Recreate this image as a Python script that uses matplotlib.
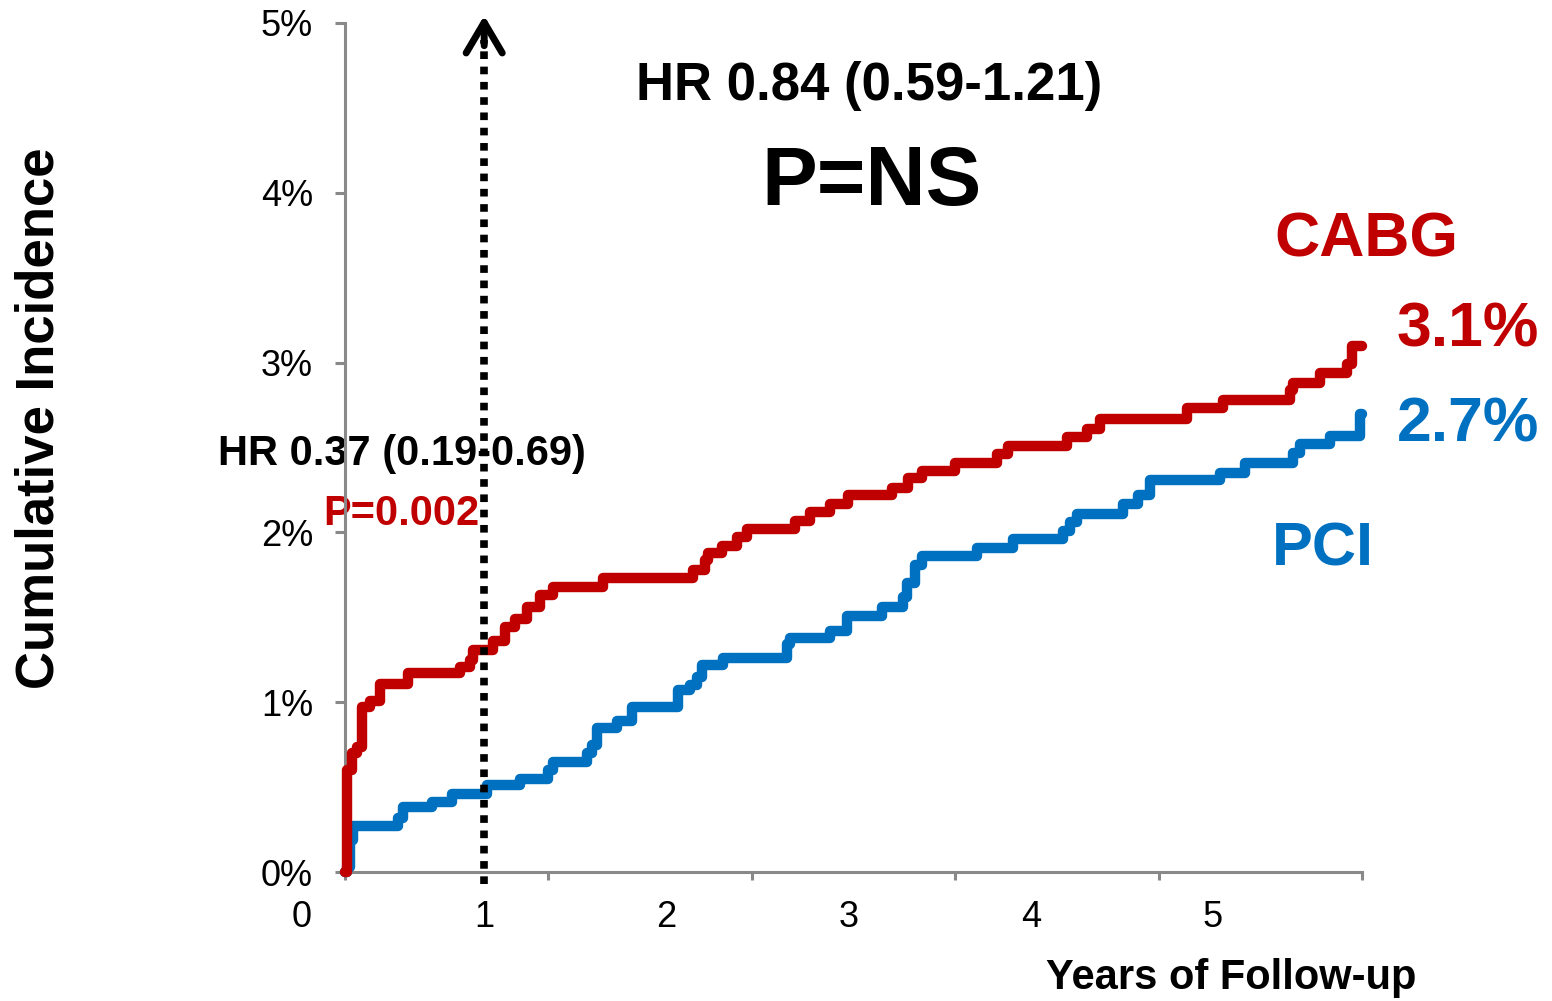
import numpy as np
import matplotlib
matplotlib.use('Agg')
import matplotlib.pyplot as plt

plt.rcParams['font.family'] = ['Liberation Sans', 'DejaVu Sans']

# Cumulative incidence curves (years of follow-up, percent)
cabg_t = [0.236, 0.247, 0.274, 0.302, 0.329, 0.373, 0.428, 0.582, 0.867, 0.922,
          0.939, 1.048, 1.114, 1.169, 1.235, 1.306, 1.378, 1.652, 2.146, 2.212,
          2.228, 2.305, 2.388, 2.443, 2.706, 2.788, 2.898, 2.997, 3.238, 3.326,
          3.403, 3.584, 3.815, 3.875, 4.199, 4.308, 4.380, 4.857, 5.055, 5.423,
          5.439, 5.587, 5.735, 5.763, 5.818]
cabg_v = [0.00, 0.60, 0.70, 0.735, 0.97, 1.01, 1.11, 1.17, 1.21, 1.25,
          1.31, 1.36, 1.44, 1.49, 1.56, 1.63, 1.68, 1.73, 1.78, 1.84,
          1.88, 1.92, 1.97, 2.02, 2.07, 2.12, 2.17, 2.22, 2.26, 2.32,
          2.36, 2.41, 2.46, 2.51, 2.56, 2.61, 2.67, 2.73, 2.78, 2.84,
          2.88, 2.94, 2.99, 3.10, 3.10]

pci_t = [0.236, 0.247, 0.263, 0.280, 0.527, 0.554, 0.713, 0.823, 1.015, 1.196,
         1.350, 1.378, 1.564, 1.592, 1.619, 1.729, 1.811, 2.064, 2.130, 2.168,
         2.195, 2.311, 2.662, 2.678, 2.898, 2.991, 3.183, 3.298, 3.320, 3.364,
         3.403, 3.705, 3.902, 4.177, 4.215, 4.254, 4.506, 4.588, 4.654, 5.038,
         5.176, 5.439, 5.478, 5.642, 5.807, 5.818]
pci_v = [0.00, 0.03, 0.19, 0.27, 0.32, 0.38, 0.41, 0.46, 0.51, 0.55,
         0.60, 0.65, 0.70, 0.75, 0.85, 0.89, 0.97, 1.07, 1.10, 1.15,
         1.22, 1.26, 1.34, 1.38, 1.42, 1.51, 1.56, 1.62, 1.70, 1.81,
         1.86, 1.91, 1.96, 2.01, 2.06, 2.11, 2.17, 2.22, 2.31, 2.35,
         2.41, 2.47, 2.52, 2.57, 2.70, 2.70]

year_labels = [0, 1, 2, 3, 4, 5]
pct_ticks = [0, 1, 2, 3, 4, 5]
landmark = 1.0

red = '#C00000'
blue = '#0070C0'
grey = '#898989'

fig = plt.figure(figsize=(15.52, 10.01), dpi=100)
ax = fig.add_axes([345 / 1552, 1 - 872 / 1001, 1017 / 1552, 849 / 1001])

x0, x1 = 0.236, 5.818
ax.set_xlim(x0, x1)
ax.set_ylim(0, 5)

ax.plot(pci_t, pci_v, drawstyle='steps-post', color=blue, lw=7.5,
        solid_joinstyle='round', solid_capstyle='round', clip_on=False, zorder=3)
ax.plot(cabg_t, cabg_v, drawstyle='steps-post', color=red, lw=7.5,
        solid_joinstyle='round', solid_capstyle='round', clip_on=False, zorder=4)

# 1-year landmark line with arrow head
ax.plot([landmark, landmark], [-0.07, 4.9], color='black', lw=5.5,
        linestyle=(0, (1, 1)), clip_on=False, zorder=5)
ax.annotate('', xy=(landmark, 5.06), xytext=(landmark, 4.85),
            arrowprops=dict(arrowstyle='->,head_length=1.1,head_width=0.65',
                            mutation_scale=20, lw=5, color='black',
                            capstyle='round', joinstyle='round'),
            annotation_clip=False, zorder=6)

# axes styling
for s in ['top', 'right']:
    ax.spines[s].set_visible(False)
for s in ['left', 'bottom']:
    ax.spines[s].set_color(grey)
    ax.spines[s].set_linewidth(2.2)

ax.set_yticks(pct_ticks)
ax.set_yticklabels([f'{p}%' for p in pct_ticks])
ax.tick_params(axis='y', direction='out', length=7, width=2.2, color=grey,
               pad=16, labelsize=26)
ax.set_xticks(np.linspace(x0, x1, 6))
ax.tick_params(axis='x', direction='out', length=6, width=2.2, color=grey,
               labelbottom=False)
for yr in year_labels:
    ax.text(yr, -0.27, str(yr), ha='center', va='center', fontsize=26)

fig.text(40 / 1552, 1 - 418 / 1001, 'Cumulative Incidence', rotation=90,
         ha='center', va='center', fontsize=38, fontweight='bold')
fig.text(1231 / 1552, 1 - 978 / 1001, 'Years of Follow-up',
         ha='center', va='center', fontsize=30, fontweight='bold')

# annotations
ax.text(3.112, 4.63, 'HR 0.84 (0.59-1.21)', ha='center', va='center',
        fontsize=38, fontweight='bold')
ax.text(3.128, 4.06, 'P=NS', ha='center', va='center',
        fontsize=60, fontweight='bold')
ax.text(0.549, 2.46, 'HR 0.37 (0.19-0.69)', ha='center', va='center',
        fontsize=30, fontweight='bold', zorder=2)
ax.text(0.543, 2.106, 'P=0.002', ha='center', va='center', color=red,
        fontsize=30, fontweight='bold', zorder=2)
ax.text(5.84, 3.72, 'CABG', ha='center', va='center', color=red,
        fontsize=45, fontweight='bold')
ax.text(6.40, 3.19, f'{cabg_v[-1]:.1f}%', ha='center', va='center', color=red,
        fontsize=45, fontweight='bold')
ax.text(6.40, 2.63, f'{pci_v[-1]:.1f}%', ha='center', va='center', color=blue,
        fontsize=45, fontweight='bold')
ax.text(5.604, 1.894, 'PCI', ha='center', va='center', color=blue,
        fontsize=44, fontweight='bold')

fig.savefig('out.png', dpi=100)
